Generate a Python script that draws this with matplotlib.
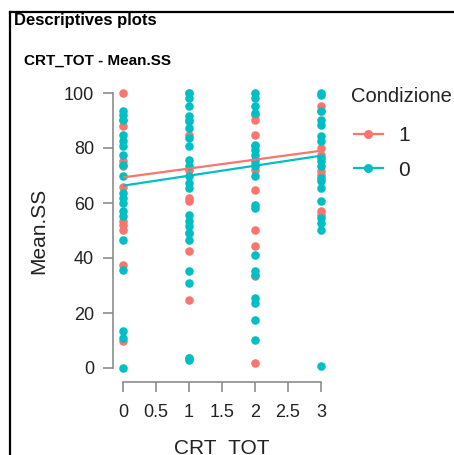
import matplotlib.pyplot as plt
from matplotlib.lines import Line2D
import numpy as np

plt.rcParams['font.family'] = ['Liberation Sans', 'DejaVu Sans']

# Condizione = 1 (red)
x_red = [0]*11 + [1]*10 + [2]*11 + [3]*8
y_red = [100, 90.3, 87.9, 75.2, 73.3, 66, 53.3, 52, 50.3, 37.6, 9.7,
         100, 90.3, 84.8, 72.1, 61.8, 60.6, 49.1, 42.4, 24.8, 3.6,
         92.1, 90.3, 84.8, 80.6, 74.5, 72.1, 64.8, 50.3, 44.2, 33.3, 1.8,
         95.2, 93.3, 80, 77.6, 71.5, 70.3, 57, 55.8]

# Condizione = 0 (teal)
x_teal = [0]*19 + [1]*22 + [2]*19 + [3]*18
y_teal = [93.3, 92.1, 90.3, 84.8, 82.4, 80.6, 77.6, 73.9, 69.7, 63.6, 61.8, 60, 57, 55.2, 46.7, 35.8, 13.3, 10.9, 0,
          100, 98.2, 95.2, 91.5, 89.7, 87.3, 83.6, 80.6, 75.8, 73.3, 69.7, 67.3, 65.5, 55.8, 53.3, 51.5, 49.1, 46.7, 35.2, 30.9, 3.6, 3.0,
          100, 98.2, 95.2, 92.7, 81.2, 79.4, 77.6, 75.8, 73.3, 69.7, 59.4, 58.2, 41.2, 35.2, 33.9, 25.5, 23.6, 17.6, 10.3,
          100, 99.4, 93.3, 90.3, 88.5, 84.2, 82.4, 76.4, 75.2, 73.3, 69.1, 67.9, 65.5, 60.6, 54.5, 52.7, 50.3, 0.6]

# fitted lines: value at x=0 and x=3
fit_x = [0, 3]
fit_red = [69.3, 79.0]
fit_teal = [66.3, 77.2]

red = '#F8766D'
teal = '#00BFC4'
grey = '#8c8c8c'
ink = '#222222'

fig = plt.figure(figsize=(4.54, 4.55), dpi=100)

# panel frame
fig.add_artist(Line2D([10/454, 10/454], [0, 1 - 12/455], color='black', lw=1.6))
fig.add_artist(Line2D([10/454, 1], [1 - 12/455, 1 - 12/455], color='black', lw=1.6))
fig.text(14/454, 1 - 21/455, 'Descriptives plots', fontsize=12, fontweight='bold', va='center')
fig.text(24/454, 1 - 61/455, 'CRT_TOT - Mean.SS', fontsize=11, fontweight='bold', va='center')

ax = fig.add_axes([123/454, 1 - 368/455, 198/454, 275/455])
ax.scatter(x_red, y_red, s=38, color=red, clip_on=False, zorder=3, linewidths=0)
ax.scatter(x_teal, y_teal, s=38, color=teal, clip_on=False, zorder=3, linewidths=0)
ax.plot(fit_x, fit_red, color=red, lw=1.6, zorder=4)
ax.plot(fit_x, fit_teal, color=teal, lw=1.6, zorder=4)

ax.set_xlim(0, 3)
ax.set_ylim(0, 100)
ax.set_xticks([0, 0.5, 1, 1.5, 2, 2.5, 3])
ax.set_xticklabels(['0', '0.5', '1', '1.5', '2', '2.5', '3'])
ax.set_yticks([0, 20, 40, 60, 80, 100])
for side in ['top', 'right']:
    ax.spines[side].set_visible(False)
ax.spines['left'].set_position(('outward', 7.2))
ax.spines['bottom'].set_position(('outward', 10))
for side in ['left', 'bottom']:
    ax.spines[side].set_color(grey)
    ax.spines[side].set_linewidth(1.2)
ax.tick_params(axis='both', colors=grey, labelcolor=ink, labelsize=13,
               length=7.2, width=1.2)
ax.tick_params(axis='y', pad=6.5)
ax.tick_params(axis='x', pad=8.5)
ax.set_xlabel('CRT_TOT', fontsize=15, color=ink, labelpad=13)
ax.set_ylabel('Mean.SS', fontsize=15, color=ink, labelpad=11)

# legend
fig.text(351/454, 1 - 97/455, 'Condizione', fontsize=14.5, color=ink, va='center', ha='left')
handles = [Line2D([0], [0], color=red, lw=1.6, marker='o', markersize=6.5, markeredgewidth=0),
           Line2D([0], [0], color=teal, lw=1.6, marker='o', markersize=6.5, markeredgewidth=0)]
leg = fig.legend(handles, ['1', '0'], loc='upper left',
                 bbox_to_anchor=(354/454, 1 - 126/455), frameon=False, fontsize=15,
                 handlelength=1.39, handletextpad=0.72, labelspacing=0.75,
                 borderpad=0, borderaxespad=0)
for t in leg.get_texts():
    t.set_color(ink)

fig.savefig('out.png', dpi=100)
